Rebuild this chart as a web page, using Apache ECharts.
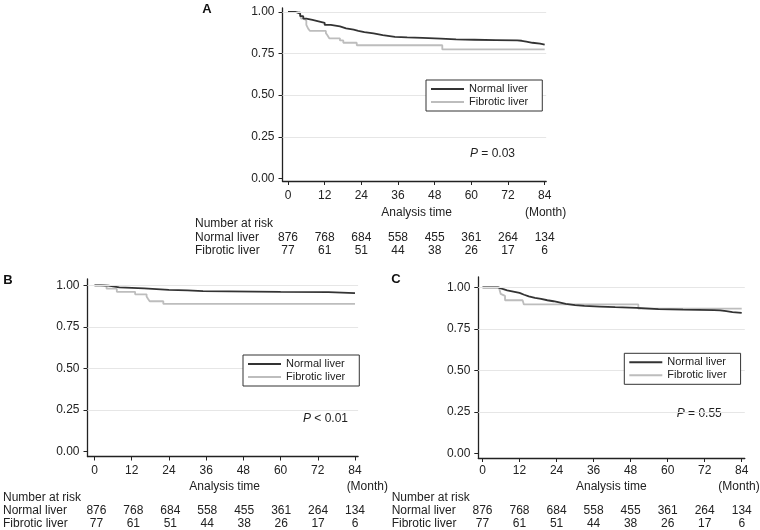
<!DOCTYPE html>
<html>
<head>
<meta charset="utf-8">
<script src="https://cdn.jsdelivr.net/npm/echarts@6/dist/echarts.min.js"></script>
<style>html,body{margin:0;padding:0;background:#fff}#c{width:760px;height:530px}</style>
</head>
<body>
<div id="c"></div>
<script>
// ---- data ----
const months = [0, 12, 24, 36, 48, 60, 72, 84];
const yTicks = [0, 0.25, 0.5, 0.75, 1];
const gridValues = [0.25, 0.5, 0.75, 1];
const riskNormal = [876, 768, 684, 558, 455, 361, 264, 134];
const riskFibrotic = [77, 61, 51, 44, 38, 26, 17, 6];
const tableRows = ['Number at risk', 'Normal liver', 'Fibrotic liver'];
const seriesNames = ['Normal liver', 'Fibrotic liver'];
const panelLetters = ['A', 'B', 'C'];
const pTexts = ['{i|P} = 0.03', '{i|P} < 0.01', '{i|P} = 0.55'];

const normalA = [[0,1],[2.5,1],[3,0.99],[4,0.975],[5,0.96],[6,0.952],[8,0.944],[10,0.935],[12,0.922],[14,0.913],[17,0.901],[19,0.894],[21.5,0.887],[23,0.879],[25,0.871],[28,0.861],[31,0.851],[35,0.847],[39,0.845],[44,0.84],[50,0.835],[55,0.833],[61,0.831],[68,0.829],[75,0.827],[76.5,0.822],[78,0.815],[80,0.81],[82.5,0.804],[84,0.804]];
const fibroticA = [[0,1],[3.9,0.987],[4.3,0.96],[5.2,0.948],[6,0.922],[6.6,0.9],[7.2,0.886],[12.4,0.873],[12.9,0.86],[13.5,0.842],[17,0.829],[18.1,0.815],[22.5,0.8],[50.5,0.775],[84,0.775]];

const normalB = [[0,1],[3,0.998],[4.5,0.993],[6,0.988],[8,0.985],[12,0.981],[16,0.977],[20,0.973],[24,0.969],[30,0.965],[35,0.96],[60,0.959],[75.5,0.953],[84,0.953]];
const fibroticB = [[0,1],[2,0.994],[3.9,0.98],[7.2,0.961],[13.1,0.946],[16.8,0.933],[17.3,0.918],[17.8,0.904],[22.2,0.888],[84,0.888]];

const normalC = [[0,1],[4,1],[5,0.99],[6.5,0.982],[8,0.974],[10,0.966],[12,0.955],[13.5,0.945],[15,0.936],[17,0.93],[19,0.922],[21,0.916],[23,0.91],[24.5,0.9],[27,0.893],[30,0.888],[33,0.884],[38,0.88],[43,0.876],[50,0.869],[57,0.865],[65,0.863],[75,0.861],[77,0.856],[79,0.851],[81,0.848],[83,0.846],[84,0.846]];
const fibroticC = [[0,1],[5.5,0.987],[5.9,0.96],[6.4,0.948],[7.3,0.922],[13,0.91],[13.4,0.897],[50.5,0.871],[84,0.871]];

const curves = [[normalA, fibroticA], [normalB, fibroticB], [normalC, fibroticC]];

// ---- layout ----
const FONT = '"Liberation Sans", Arial, Helvetica, sans-serif';
const TXT = '#222';
const panels = [
  { plot: {left: 282.5, top: 8, width: 263.7, height: 173}, xMin: -1.8, xMax: 84.5, yMin: -0.016, yMax: 1.024,
    table: {left: 282.5, top: 217.3, width: 263.7, height: 40}, rowMargin: 87.5,
    legend: {left: 426, top: 80}, letter: [207, 9], p: [470, 153.3],
    atime: [416.7, 212.7], month: [545.6, 212.7], xLabelMargin: 9 },
  { plot: {left: 87.5, top: 279, width: 270.6, height: 177.5}, xMin: -2.25, xMax: 85, yMin: -0.031, yMax: 1.038,
    table: {left: 87.5, top: 491.6, width: 270.6, height: 40}, rowMargin: 86.5,
    legend: {left: 243, top: 355}, letter: [8, 280.5], p: [303, 418.3],
    atime: [224.7, 486.7], month: [367.3, 486.7], xLabelMargin: 8 },
  { plot: {left: 478.3, top: 277, width: 266.5, height: 181}, xMin: -1.36, xMax: 85, yMin: -0.028, yMax: 1.062,
    table: {left: 478.3, top: 491.6, width: 266.5, height: 40}, rowMargin: 86.6,
    legend: {left: 624.3, top: 353.3}, letter: [396, 279.5], p: [676.7, 413.3],
    atime: [611.3, 486.7], month: [739, 486.7], xLabelMargin: 7 }
];

const grid = [], xAxis = [], yAxis = [], series = [], legend = [], graphic = [];
const axisLineStyle = {color: '#222', width: 1.3};

panels.forEach((p, i) => {
  const gPlot = grid.length;
  grid.push(Object.assign({containLabel: false}, p.plot));
  xAxis.push({
    type: 'value', gridIndex: gPlot, min: p.xMin, max: p.xMax,
    axisLine: {show: true, onZero: false, lineStyle: axisLineStyle},
    axisTick: {show: true, length: 4, lineStyle: {color: '#222', width: 1}, customValues: months},
    axisLabel: {show: true, customValues: months, margin: p.xLabelMargin, color: TXT, fontSize: 12, fontFamily: FONT},
    splitLine: {show: false}
  });
  yAxis.push({
    type: 'value', gridIndex: gPlot, min: p.yMin, max: p.yMax,
    axisLine: {show: true, onZero: false, lineStyle: axisLineStyle},
    axisTick: {show: true, length: 4, lineStyle: {color: '#222', width: 1}, customValues: yTicks},
    axisLabel: {show: true, customValues: yTicks, margin: 8, color: TXT, fontSize: 12, fontFamily: FONT,
      formatter: v => Number(v).toFixed(2)},
    splitLine: {show: false}
  });
  const ax = xAxis.length - 1, ay = yAxis.length - 1;
  series.push({
    type: 'line', xAxisIndex: ax, yAxisIndex: ay, data: [], z: 1, silent: true,
    markLine: {silent: true, symbol: 'none', label: {show: false}, animation: false,
      lineStyle: {color: '#e6e6e6', width: 1, type: 'solid'},
      data: gridValues.map(v => ({yAxis: v}))}
  });
  const [nData, fData] = curves[i];
  series.push({
    name: seriesNames[1], type: 'line', step: 'end', xAxisIndex: ax, yAxisIndex: ay, data: fData,
    symbol: 'none', showSymbol: false, z: 3, lineStyle: {color: '#bdbdbd', width: 1.8}, itemStyle: {color: '#bdbdbd'}
  });
  series.push({
    name: seriesNames[0], type: 'line', step: 'end', xAxisIndex: ax, yAxisIndex: ay, data: nData,
    symbol: 'none', showSymbol: false, z: 4, lineStyle: {color: '#333', width: 1.8}, itemStyle: {color: '#333'}
  });

  // risk table
  const gTab = grid.length;
  grid.push(Object.assign({containLabel: false}, p.table));
  xAxis.push({type: 'value', gridIndex: gTab, min: p.xMin, max: p.xMax, show: false});
  yAxis.push({
    type: 'category', gridIndex: gTab, data: tableRows, inverse: true,
    axisLine: {show: false}, axisTick: {show: false}, splitLine: {show: false},
    axisLabel: {show: true, interval: 0, align: 'left', margin: p.rowMargin, color: TXT, fontSize: 12, fontFamily: FONT}
  });
  const tx = xAxis.length - 1, ty = yAxis.length - 1;
  const tableData = [];
  months.forEach((m, k) => {
    tableData.push([m, tableRows[1], riskNormal[k]]);
    tableData.push([m, tableRows[2], riskFibrotic[k]]);
  });
  series.push({
    type: 'scatter', xAxisIndex: tx, yAxisIndex: ty, data: tableData, symbolSize: 0.5,
    itemStyle: {color: '#fff', opacity: 1}, silent: true,
    labelLayout: {hideOverlap: false},
    label: {show: true, position: 'inside', formatter: q => String(q.value[2]), color: TXT, opacity: 1,
      fontSize: 12, fontFamily: FONT, textBorderWidth: 0}
  });

  legend.push({
    data: seriesNames, left: p.legend.left, top: p.legend.top, orient: 'vertical', z: 10,
    backgroundColor: '#fff',
    borderColor: '#333', borderWidth: 1, padding: [3, 14, 3, 5], itemGap: 1,
    icon: 'rect', itemWidth: 33, itemHeight: 2, selectedMode: false,
    textStyle: {fontSize: 11, color: TXT, fontFamily: FONT, lineHeight: 12}
  });

  graphic.push({type: 'text', x: p.letter[0], y: p.letter[1],
    style: {text: panelLetters[i], font: 'bold 13px ' + FONT, fill: '#111', textAlign: 'center', textVerticalAlign: 'middle'}});
  graphic.push({type: 'text', x: p.p[0], y: p.p[1],
    style: {text: pTexts[i], font: '12px ' + FONT, fill: TXT, textAlign: 'left', textVerticalAlign: 'middle',
      rich: {i: {fontStyle: 'italic', fontSize: 12, fontFamily: FONT, fill: TXT}}}});
  graphic.push({type: 'text', x: p.atime[0], y: p.atime[1],
    style: {text: 'Analysis time', font: '12px ' + FONT, fill: TXT, textAlign: 'center', textVerticalAlign: 'middle'}});
  graphic.push({type: 'text', x: p.month[0], y: p.month[1],
    style: {text: '(Month)', font: '12px ' + FONT, fill: TXT, textAlign: 'center', textVerticalAlign: 'middle'}});
});

const chart = echarts.init(document.getElementById('c'), null, {renderer: 'canvas'});
chart.setOption({
  animation: false,
  backgroundColor: '#fff',
  textStyle: {fontFamily: FONT},
  grid, xAxis, yAxis, series, legend, graphic
});
</script>
</body>
</html>
